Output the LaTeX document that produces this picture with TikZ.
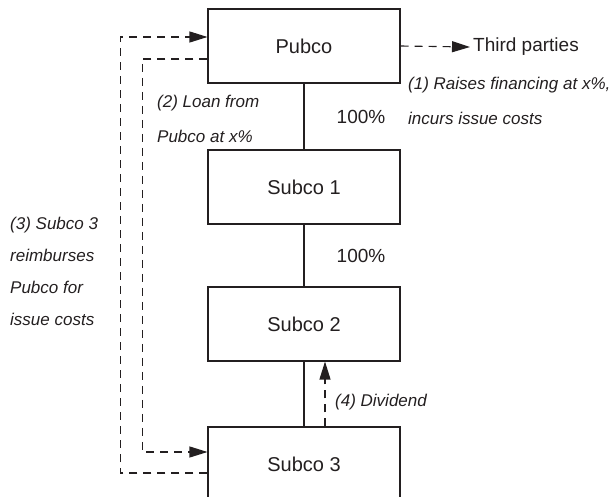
\documentclass[tikz,border=0pt]{standalone}
\usepackage{fontspec}
\setmainfont{Liberation Sans}
\usetikzlibrary{arrows.meta}
\definecolor{ink}{HTML}{231F20}
\tikzset{
    box/.style={draw=ink, line width=1.1pt, minimum width=192pt, minimum height=74pt,
        inner sep=0pt, text=ink, font=\fontsize{20}{23}\selectfont},
    note/.style={inner sep=0pt, align=left, text=ink, font=\fontsize{17}{35}\selectfont\itshape},
    pct/.style={xshift=57pt, inner sep=0pt, text=ink, font=\fontsize{19}{22}\selectfont},
    flow/.style={draw=ink, line width=1.1pt, dash pattern=on 8pt off 6pt,
        -{Triangle[length=18pt,width=11pt]}}
}
\begin{document}
\begin{tikzpicture}[x=1pt, y=-1pt]
        \clip (0,0) rectangle (614,497);
        \node[box] (pubco) at (304, 46) {Pubco};
        \node[box] (subco1) at (304, 187) {Subco 1};
        \node[box] (subco2) at (304, 324) {Subco 2};
        \node[box] (subco3) at (304, 464) {Subco 3};
        \node[inner sep=0pt, anchor=west, text=ink, font=\fontsize{19}{22}\selectfont] (third) at (473, 47) {Third parties};
        \node[note, anchor=west] (raise) at (408, 101) {(1) Raises financing at x\%,\\incurs issue costs};
        \node[note, anchor=west] (loan) at (157, 119) {(2) Loan from\\Pubco at x\%};
        \node[note, anchor=west, font=\fontsize{17}{32}\selectfont\itshape] (repay) at (10, 271) {(3) Subco 3\\reimburses\\Pubco for\\issue costs};
        \node[note, anchor=west] (divi) at (335, 402) {(4) Dividend};
        \path [-, draw=ink, line width=1.1pt] (pubco) edge node[pct] {100\%} (subco1);
        \path [-, draw=ink, line width=1.1pt] (subco1) edge node[pct] {100\%} (subco2);
        \path [-, draw=ink, line width=1.1pt] (subco2) edge node {} (subco3);
        \path [flow] (pubco.east) -- ([xshift=-3pt]third.west);
        \path [flow] ([xshift=21pt]subco3.north) -- ([xshift=21pt]subco2.south);
        \path [flow] ([yshift=-9pt]subco3.west) -- ++(-87pt, 0) |- ([yshift=9pt]pubco.west);
        \path [flow] ([yshift=-13pt]pubco.west) -- ++(-65pt, 0) |- ([yshift=12pt]subco3.west);
    \end{tikzpicture}
\end{document}
